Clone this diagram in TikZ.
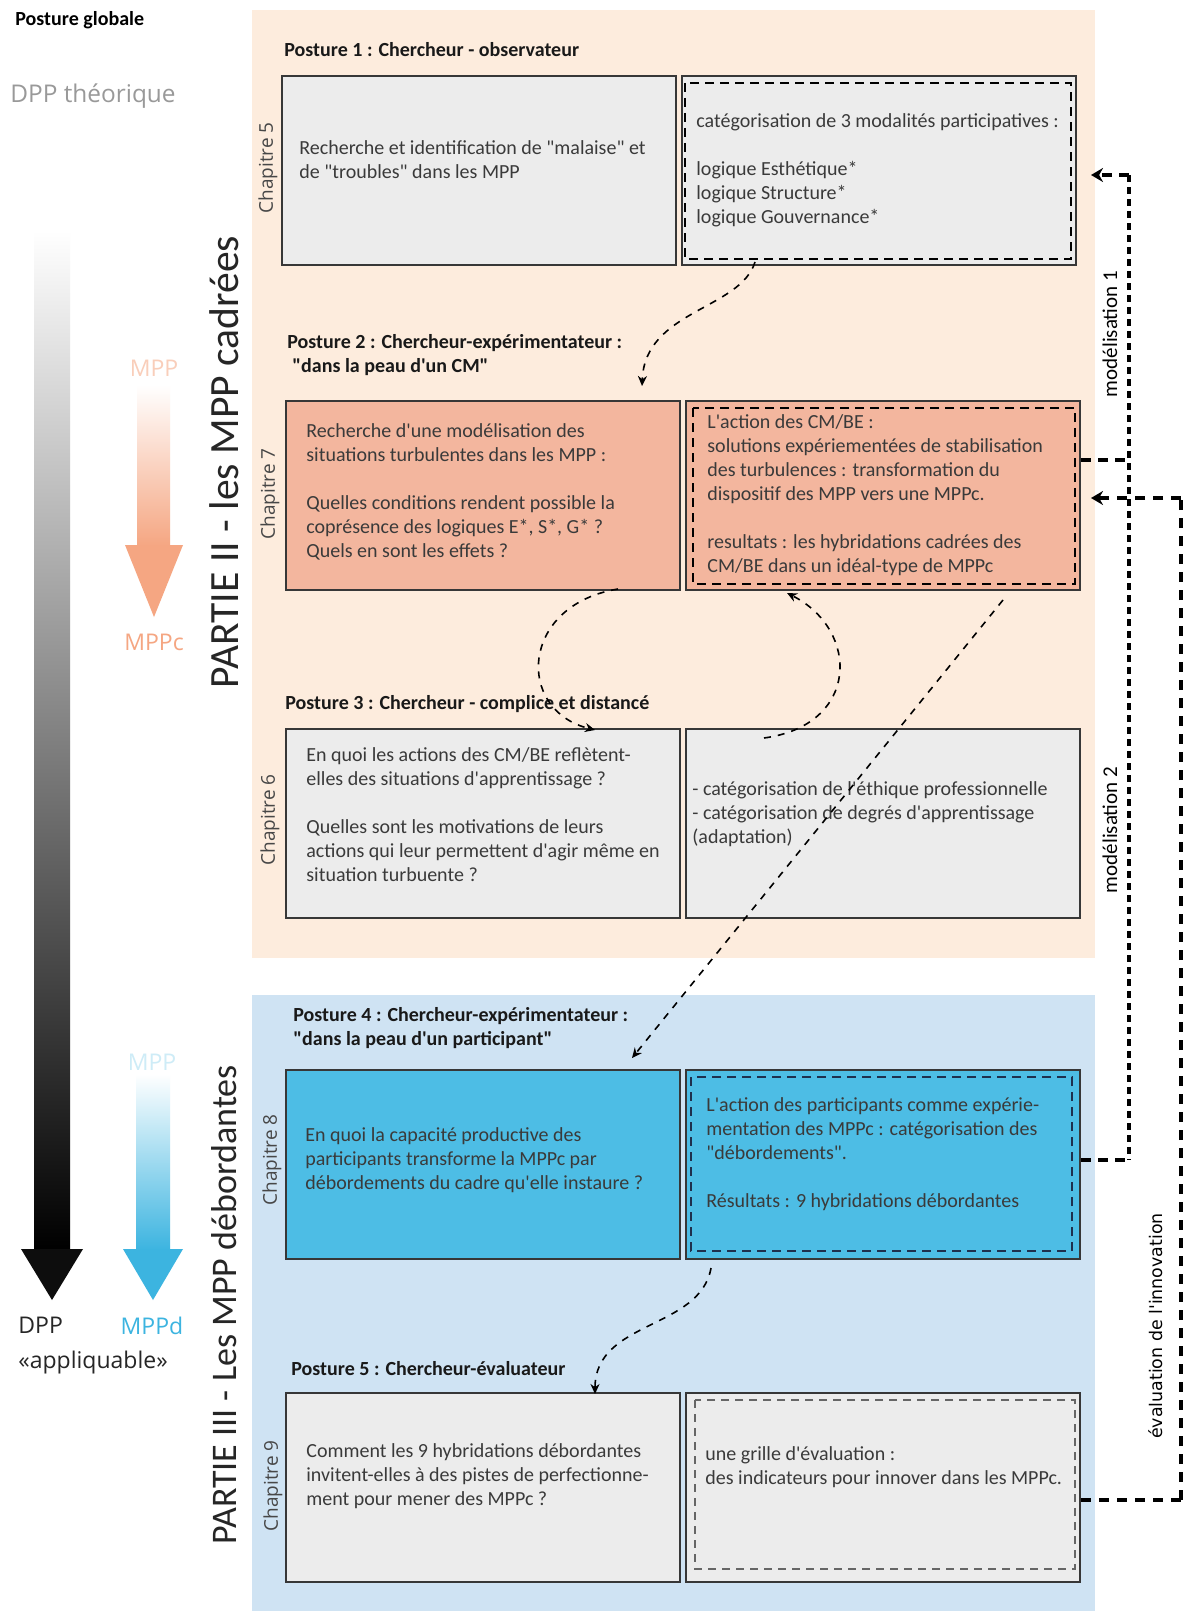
\documentclass[tikz,border=0pt]{standalone}
\usepackage{fontspec}
\setmainfont{Carlito}[Ligatures=TeXOff]
\newfontfamily\opensans{Open Sans}
\newfontfamily\dejavu{DejaVu Sans}
\usetikzlibrary{arrows.meta,positioning}

\definecolor{peachbg}{RGB}{253,236,221}
\definecolor{bluebg}{RGB}{207,227,243}
\definecolor{cellgray}{RGB}{236,236,236}
\definecolor{cellsalmon}{RGB}{243,182,158}
\definecolor{cellblue}{RGB}{77,189,229}
\definecolor{edgegray}{RGB}{55,55,55}
\definecolor{txtgray}{RGB}{58,58,58}
\definecolor{arrsalmon}{RGB}{245,166,130}
\definecolor{arrblue}{RGB}{60,180,224}
\definecolor{framenavy}{RGB}{30,48,78}

\begin{document}
\begin{tikzpicture}[x=0.5pt, y=-0.5pt,
    cell/.style={draw=edgegray, line width=1pt, anchor=north west,
      minimum width=197pt, minimum height=94.5pt, inner sep=0pt},
    celltext/.style={align=left, inner sep=0pt, text=txtgray,
      font=\fontsize{10}{12}\selectfont},
    posture/.style={anchor=west, align=left, inner sep=0pt, text=black!90,
      font=\bfseries\fontsize{10}{12}\selectfont},
    chap/.style={rotate=90, inner sep=0pt, text=black!72,
      font=\opensans\fontsize{9.5}{11}\selectfont},
    partie/.style={rotate=90, inner sep=0pt, text=black!85},
    sidetxt/.style={inner sep=0pt, font=\opensans\fontsize{11.5}{17.5}\selectfont},
    innerframe/.style={line width=1pt, dash pattern=on 4.5pt off 3pt},
    link/.style={line width=0.8pt, dash pattern=on 3.5pt off 3.5pt,
      -{Stealth[length=5pt, width=4.5pt]}},
    modline/.style={line width=2.4pt, dash pattern=on 3.5pt off 2.5pt},
    hookline/.style={line width=2pt, dash pattern=on 5pt off 3.5pt},
    evalline/.style={line width=1.8pt, dash pattern=on 5pt off 4pt},
  ]
  % PAGE
  \useasboundingbox (0,0) rectangle (1185,1611);
  \fill[white] (0,0) rectangle (1185,1611);
  % BACKGROUNDS
  \fill[peachbg] (252,10) rectangle (1095,958);
  \fill[bluebg] (252,995) rectangle (1095,1611);

  % LEFT SCALE
  \node[anchor=west, inner sep=0pt, font=\bfseries\fontsize{10}{12}\selectfont] (glob) at (15,20) {Posture globale};
  \node[sidetxt, anchor=west, text=black!40, font=\opensans\fontsize{12.2}{14}\selectfont] (theo) at (10,96) {DPP théorique};
  \shade[top color=white, middle color=black!35, bottom color=black] (34,231) rectangle (70,1250);
  \fill[black!95] (21,1249) -- (83,1249) -- (52,1300) -- cycle;
  \node[sidetxt, anchor=west, align=left, text=black!85] (appl) at (18,1346) {DPP\\«appliquable»};
  % MPP -> MPPc
  \node[sidetxt, text=arrsalmon!55] (mppa) at (154,368) {MPP};
  \shade[top color=white, bottom color=arrsalmon] (137,385) rectangle (170,546);
  \fill[arrsalmon] (125,545) -- (183,545) -- (154,617) -- cycle;
  \node[sidetxt, text=arrsalmon] (mppc) at (154,642) {MPPc};
  % MPP -> MPPd
  \node[sidetxt, text=arrblue!25] (mppb) at (152,1062) {MPP};
  \shade[top color=white, bottom color=arrblue] (136,1074) rectangle (170,1250);
  \fill[arrblue] (123,1249) -- (183,1249) -- (153,1300) -- cycle;
  \node[sidetxt, text=arrblue] (mppd) at (152,1326) {MPPd};
  % PARTIES
  \node[partie, font=\fontsize{20.8}{24}\selectfont] (part2) at (224,462) {PARTIE II - les MPP cadrées};
  \node[partie, font=\fontsize{18}{22}\selectfont] (part3) at (224,1305) {PARTIE III - Les MPP débordantes};

  % POSTURE 1
  \node[posture] (p1) at (284,50) {Posture 1 : Chercheur - observateur};
  \node[cell, fill=cellgray] (b1l) at (281,75) {};
  \node[cell, fill=cellgray, right=2pt of b1l] (b1r) {};
  \draw[innerframe] ([shift={(4,8)}]b1r.north west) rectangle ([shift={(-6,-7)}]b1r.south east);
  \node[chap] (ch5) at (268,168) {Chapitre 5};
  \node[celltext, right=9pt of b1l.west, yshift=5.25pt] (t1l)
    {Recherche et identification de "malaise" et\\de "troubles" dans les MPP};
  \node[celltext, right=7.5pt of b1r.west] (t1r)
    {catégorisation de 3 modalités participatives :\\[12pt]logique Esthétique*\\logique Structure*\\logique Gouvernance*};

  % POSTURE 2
  \node[posture] (p2) at (287,355) {Posture 2 : Chercheur-expérimentateur :\\\hspace{2.5pt}"dans la peau d'un CM"};
  \node[cell, fill=cellsalmon] (b2l) at (285,400) {};
  \node[cell, fill=cellsalmon, right=2pt of b2l] (b2r) {};
  \draw[innerframe] ([shift={(8,8)}]b2r.north west) rectangle ([shift={(-6,-7)}]b2r.south east);
  \node[chap] (ch7) at (270,494) {Chapitre 7};
  \node[celltext, right=10.5pt of b2l.west, yshift=2pt] (t2l)
    {Recherche d'une modélisation des\\situations turbulentes dans les MPP :\\[12pt]Quelles conditions rendent possible la\\coprésence des logiques E*, S*, G* ?\\Quels en sont les effets ?};
  \node[celltext, right=11pt of b2r.west] (t2r)
    {L'action des CM/BE :\\solutions expériementées de stabilisation\\des turbulences : transformation du\\dispositif des MPP vers une MPPc.\\[12pt]resultats : les hybridations cadrées des\\CM/BE dans un idéal-type de MPPc};

  % POSTURE 3
  \node[posture] (p3) at (285,704) {Posture 3 : Chercheur - complice et distancé};
  \node[cell, fill=cellgray] (b3l) at (285,728) {};
  \node[cell, fill=cellgray, right=2pt of b3l] (b3r) {};
  \node[chap] (ch6) at (270,820) {Chapitre 6};
  \node[celltext, right=10.5pt of b3l.west, yshift=4.25pt] (t3l)
    {En quoi les actions des CM/BE reflètent-\\elles des situations d'apprentissage ?\\[12pt]Quelles sont les motivations de leurs\\actions qui leur permettent d'agir même en\\situation turbuente ?};
  \node[celltext, right=3.5pt of b3r.west, yshift=4.5pt] (t3r)
    {- catégorisation de l'éthique professionnelle\\- catégorisation de degrés d'apprentissage\\(adaptation)};

  % POSTURE 4
  \node[posture] (p4) at (293,1028) {Posture 4 : Chercheur-expérimentateur :\\"dans la peau d'un participant"};
  \node[cell, fill=cellblue] (b4l) at (285,1069) {};
  \node[cell, fill=cellblue, right=2pt of b4l] (b4r) {};
  \draw[innerframe, draw=framenavy] ([shift={(6,8)}]b4r.north west) rectangle ([shift={(-9,-9)}]b4r.south east);
  \node[chap] (ch8) at (272,1160) {Chapitre 8};
  \node[celltext, right=10pt of b4l.west, yshift=2.25pt] (t4l)
    {En quoi la capacité productive des\\participants transforme la MPPc par\\débordements du cadre qu'elle instaure ?};
  \node[celltext, right=10.5pt of b4r.west, yshift=5pt] (t4r)
    {L'action des participants comme expérie-\\mentation des MPPc : catégorisation des\\"débordements".\\[12pt]Résultats : 9 hybridations débordantes};

  % POSTURE 5
  \node[posture] (p5) at (291,1369) {Posture 5 : Chercheur-évaluateur};
  \node[cell, fill=cellgray] (b5l) at (285,1392) {};
  \node[cell, fill=cellgray, right=2pt of b5l] (b5r) {};
  \draw[line width=0.6pt, draw=black!60, dash pattern=on 4pt off 3pt] ([shift={(10,8)}]b5r.north west) rectangle ([shift={(-6,-14)}]b5r.south east);
  \node[chap] (ch9) at (273,1486) {Chapitre 9};
  \node[celltext, right=10.5pt of b5l.west, yshift=5.5pt] (t5l)
    {Comment les 9 hybridations débordantes\\invitent-elles à des pistes de perfectionne-\\ment pour mener des MPPc ?};
  \node[celltext, right=10pt of b5r.west, yshift=10pt] (t5r)
    {une grille d'évaluation :\\des indicateurs pour innover dans les MPPc.};

  % LINKS BETWEEN POSTURES
  \coordinate (l1a) at (755,262);
  \coordinate (l1b) at (642,386);
  \draw[link] (l1a) .. controls (740,310) and (645,310) .. (l1b);
  \coordinate (l2a) at (618,589);
  \coordinate (l2b) at (595,730);
  \draw[link] (l2a) .. controls (520,605) and (515,710) .. (l2b);
  \coordinate (l3a) at (764,738);
  \coordinate (l3b) at (787,593);
  \draw[link] (l3a) .. controls (860,725) and (860,630) .. (l3b);
  \coordinate (l4a) at (1003,600);
  \coordinate (l4b) at (632,1058);
  \draw[link] (l4a) -- (l4b);
  \coordinate (l5a) at (711,1268);
  \coordinate (l5b) at (595,1394);
  \draw[link] (l5a) .. controls (700,1330) and (595,1320) .. (l5b);

  % MODELISATION
  \coordinate (mtop) at (1129,175);
  \coordinate (mmid) at (1129,460);
  \coordinate (mlow) at (1129,1160);
  \coordinate (mtip) at (1091,175);
  \draw[modline] (mtop) -- (mlow);
  \draw[hookline, -{Stealth[length=6pt, width=7pt]}] (mtop) -- (mtip);
  \draw[hookline] ([shift={(0,60)}]b2r.north east) -- (mmid);
  \draw[hookline] ([shift={(0,91)}]b4r.north east) -- (mlow);
  \node[rotate=90, inner sep=0pt, font=\fontsize{10.5}{12}\selectfont] (mod1) at (1110,334) {modélisation 1};
  \node[rotate=90, inner sep=0pt, font=\fontsize{10.5}{12}\selectfont] (mod2) at (1110,830) {modélisation 2};

  % EVALUATION
  \coordinate (etop) at (1181,498);
  \coordinate (elow) at (1181,1500);
  \coordinate (etip) at (1091,498);
  \draw[evalline] (elow) -- (etop);
  \draw[evalline, -{Stealth[length=6pt, width=7pt]}] (etop) -- (etip);
  \draw[evalline] ([shift={(0,108)}]b5r.north east) -- (elow);
  \node[rotate=90, inner sep=0pt, font=\dejavu\fontsize{8.7}{10}\selectfont] (eval) at (1156,1326) {évaluation de l'innovation};
\end{tikzpicture}
\end{document}
